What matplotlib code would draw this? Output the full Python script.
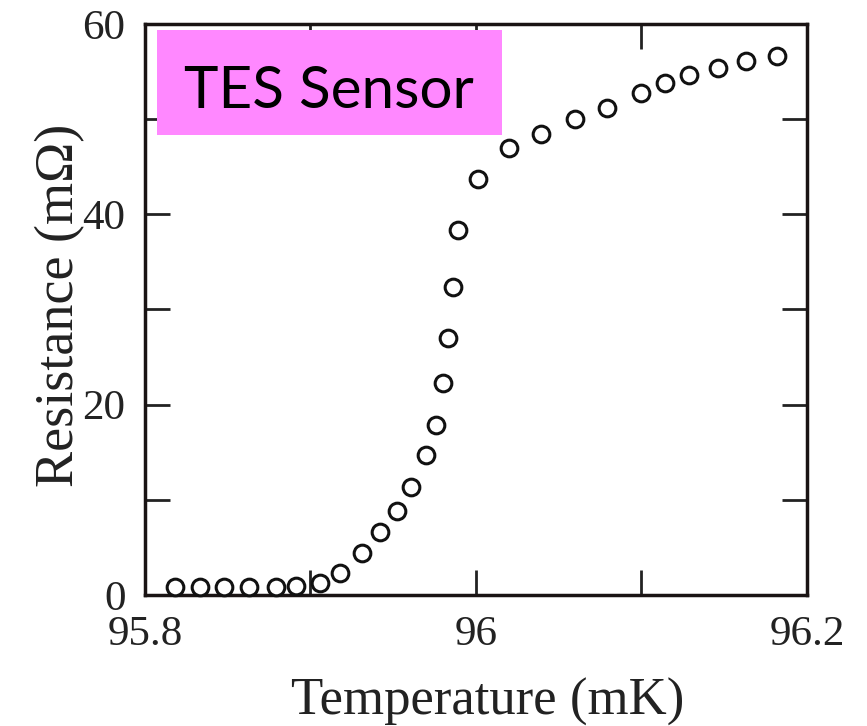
import matplotlib.pyplot as plt
from matplotlib.patches import Rectangle

# transition curve
temp_mk = [95.818, 95.833, 95.848, 95.863, 95.879, 95.891, 95.906, 95.918,
           95.931, 95.942, 95.952, 95.961, 95.970, 95.976, 95.980, 95.983,
           95.986, 95.989, 96.001, 96.020, 96.039, 96.060, 96.079, 96.100,
           96.114, 96.129, 96.146, 96.163, 96.182]
resist_mohm = [0.8, 0.8, 0.8, 0.8, 0.8, 0.9, 1.3, 2.3,
               4.4, 6.6, 8.8, 11.4, 14.7, 17.9, 22.3, 27.0,
               32.4, 38.3, 43.7, 47.0, 48.4, 50.0, 51.2, 52.7,
               53.8, 54.6, 55.4, 56.1, 56.6]

xticks = [95.8, 95.9, 96.0, 96.1, 96.2]
xtick_labels = ["95.8", "", "96", "", "96.2"]
yticks = [0, 10, 20, 30, 40, 50, 60]
ytick_labels = ["0", "", "20", "", "40", "", "60"]

plt.rcParams["font.family"] = "Liberation Serif"

fig = plt.figure(figsize=(8.67, 7.26), dpi=100)
ax = fig.add_axes([0.1672, 0.1804, 0.7636, 0.7866])

ax.plot(temp_mk, resist_mohm, linestyle="none", marker="o", markersize=12,
        markerfacecolor="white", markeredgecolor="#111111", markeredgewidth=2.2,
        clip_on=False, zorder=3)

ax.set_xlim(95.8, 96.2)
ax.set_ylim(0, 60)
ax.set_xticks(xticks)
ax.set_xticklabels(xtick_labels)
ax.set_yticks(yticks)
ax.set_yticklabels(ytick_labels)
ax.tick_params(direction="in", length=18, width=2, labelsize=31,
               top=True, right=True, colors="#222222", labelcolor="#222222")
ax.tick_params(axis="x", pad=15)
ax.tick_params(axis="y", pad=14)
for s in ax.spines.values():
    s.set_linewidth(2.5)
    s.set_color("#1a1414")

ax.set_xlabel("Temperature (mK)", fontsize=38, color="#222222")
ax.set_ylabel("Resistance (m\u03a9)", fontsize=39, color="#222222")
ax.xaxis.set_label_coords(0.517, -0.145)
ax.yaxis.set_label_coords(-0.09, 0.508)

ax.add_patch(Rectangle((0.018, 0.806), 0.521, 0.183, transform=ax.transAxes,
                       facecolor="#ff88ff", edgecolor="none", zorder=5,
                       clip_on=False))
ax.text(0.2785, 0.853, "TES Sensor", transform=ax.transAxes, ha="center",
        va="baseline", fontsize=42, family="Lato", color="black", zorder=6)

fig.savefig("out.png", dpi=100)
